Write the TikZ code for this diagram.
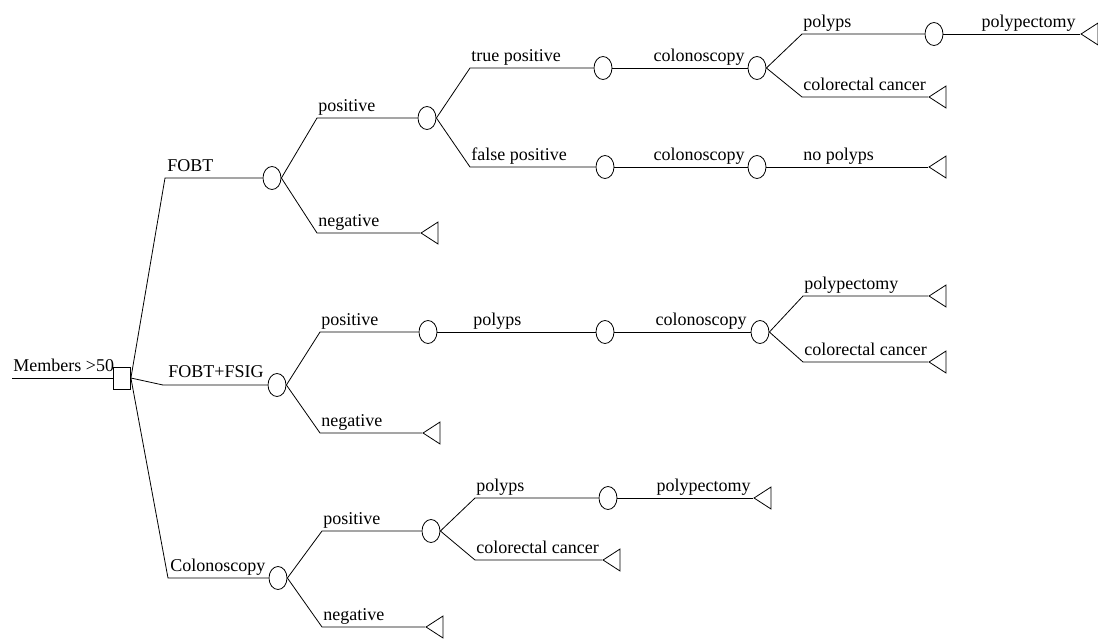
\documentclass[tikz,border=0pt]{standalone}
\usepackage{fontspec}
\setmainfont{Liberation Serif}
\usetikzlibrary{shapes.geometric}

\begin{document}
\begin{tikzpicture}[x=1pt,y=-1pt,line width=0.8pt,
    chance/.style={draw,ellipse,minimum width=18pt,minimum height=23pt,inner sep=0pt},
    choice/.style={draw,rectangle,minimum width=17pt,minimum height=22pt,inner sep=0pt},
    leaf/.style={draw,isosceles triangle,isosceles triangle stretches,shape border rotate=180,minimum width=22pt,minimum height=17pt,inner sep=0pt,anchor=apex},
    lbl/.style={inner sep=0pt,anchor=base west,font=\fontsize{18}{20}\selectfont},
    lblr/.style={lbl,anchor=base east}]
    \useasboundingbox (0,0) rectangle (1098,638);

    % root
    \coordinate (r0) at (12,378);
    \node[choice] (d) at (122,378) {};
    \node[lbl] (lr) at (13,371) {Members >50};

    % FOBT
    \coordinate (k1) at (165,178);
    \node[chance] (c1) at (272,178) {};
    \node[lbl] (l1) at (167,171) {FOBT};
    \coordinate (k11) at (317,118);
    \node[chance] (c11) at (427,118) {};
    \node[lbl] (l11) at (318,111) {positive};
    \coordinate (k12) at (317,233);
    \node[leaf] (t12) at (420,233) {};
    \node[lbl] (l12) at (318,226) {negative};
    \coordinate (k111) at (470,68);
    \node[chance] (c111) at (603,68) {};
    \node[lbl] (l111) at (471,61) {true positive};
    \node[chance] (c1111) at (757,68) {};
    \node[lblr] (l1111) at (745,61) {colonoscopy};
    \coordinate (k1111) at (802,34);
    \node[chance] (c11111) at (934,34) {};
    \node[lbl] (l11111) at (803,27) {polyps};
    \node[leaf] (t11111) at (1080,34) {};
    \node[lblr] (l11112) at (1076,27) {polypectomy};
    \coordinate (k1112) at (802,97);
    \node[leaf] (t1112) at (928,97) {};
    \node[lbl] (l1112) at (803,90) {colorectal cancer};
    \coordinate (k112) at (470,167);
    \node[chance] (c112) at (605,167) {};
    \node[lbl] (l112) at (471,160) {false positive};
    \node[chance] (c1121) at (757,167) {};
    \node[lblr] (l1121) at (745,160) {colonoscopy};
    \node[leaf] (t1121) at (928,167) {};
    \node[lbl] (l1122) at (803,160) {no polyps};

    % FOBT+FSIG
    \coordinate (k2) at (163,385);
    \node[chance] (c2) at (277,385) {};
    \node[lbl] (l2) at (168,377) {FOBT+FSIG};
    \coordinate (k21) at (320,332);
    \node[chance] (c21) at (428,332) {};
    \node[lbl] (l21) at (321,325) {positive};
    \node[chance] (c211) at (605,332) {};
    \node[lbl] (l211) at (473,325) {polyps};
    \node[chance] (c2111) at (760,332) {};
    \node[lblr] (l2111) at (747,325) {colonoscopy};
    \coordinate (k2111) at (803,296);
    \node[leaf] (t2111) at (928,296) {};
    \node[lbl] (l2112) at (804,289) {polypectomy};
    \coordinate (k2112) at (803,362);
    \node[leaf] (t2112) at (928,362) {};
    \node[lbl] (l2113) at (804,355) {colorectal cancer};
    \coordinate (k22) at (320,433);
    \node[leaf] (t22) at (422,433) {};
    \node[lbl] (l22) at (321,426) {negative};

    % Colonoscopy
    \coordinate (k3) at (168,578);
    \node[chance] (c3) at (278,578) {};
    \node[lbl] (l3) at (170,571) {Colonoscopy};
    \coordinate (k31) at (322,531);
    \node[chance] (c31) at (431,531) {};
    \node[lbl] (l31) at (323,524) {positive};
    \coordinate (k311) at (475,498);
    \node[chance] (c311) at (608,498) {};
    \node[lbl] (l311) at (476,491) {polyps};
    \node[leaf] (t311) at (753,498) {};
    \node[lblr] (l3111) at (751,491) {polypectomy};
    \coordinate (k312) at (475,560);
    \node[leaf] (t312) at (602,560) {};
    \node[lbl] (l312) at (476,553) {colorectal cancer};
    \coordinate (k32) at (322,627);
    \node[leaf] (t32) at (425,627) {};
    \node[lbl] (l32) at (323,620) {negative};

    \draw (r0) -- (d);
    \draw (d.east) -- (k1) -- (c1);
    \draw (d.east) -- (k2) -- (c2);
    \draw (d.east) -- (k3) -- (c3);

    \draw (c1.east) -- (k11) -- (c11);
    \draw (c1.east) -- (k12) -- (t12.apex);
    \draw (c11.east) -- (k111) -- (c111);
    \draw (c111) -- (c1111);
    \draw (c1111.east) -- (k1111) -- (c11111);
    \draw (c11111) -- (t11111.apex);
    \draw (c1111.east) -- (k1112) -- (t1112.apex);
    \draw (c11.east) -- (k112) -- (c112);
    \draw (c112) -- (c1121);
    \draw (c1121) -- (t1121.apex);

    \draw (c2.east) -- (k21) -- (c21);
    \draw (c21) -- (c211);
    \draw (c211) -- (c2111);
    \draw (c2111.east) -- (k2111) -- (t2111.apex);
    \draw (c2111.east) -- (k2112) -- (t2112.apex);
    \draw (c2.east) -- (k22) -- (t22.apex);

    \draw (c3.east) -- (k31) -- (c31);
    \draw (c31.east) -- (k311) -- (c311);
    \draw (c311) -- (t311.apex);
    \draw (c31.east) -- (k312) -- (t312.apex);
    \draw (c3.east) -- (k32) -- (t32.apex);
\end{tikzpicture}
\end{document}
